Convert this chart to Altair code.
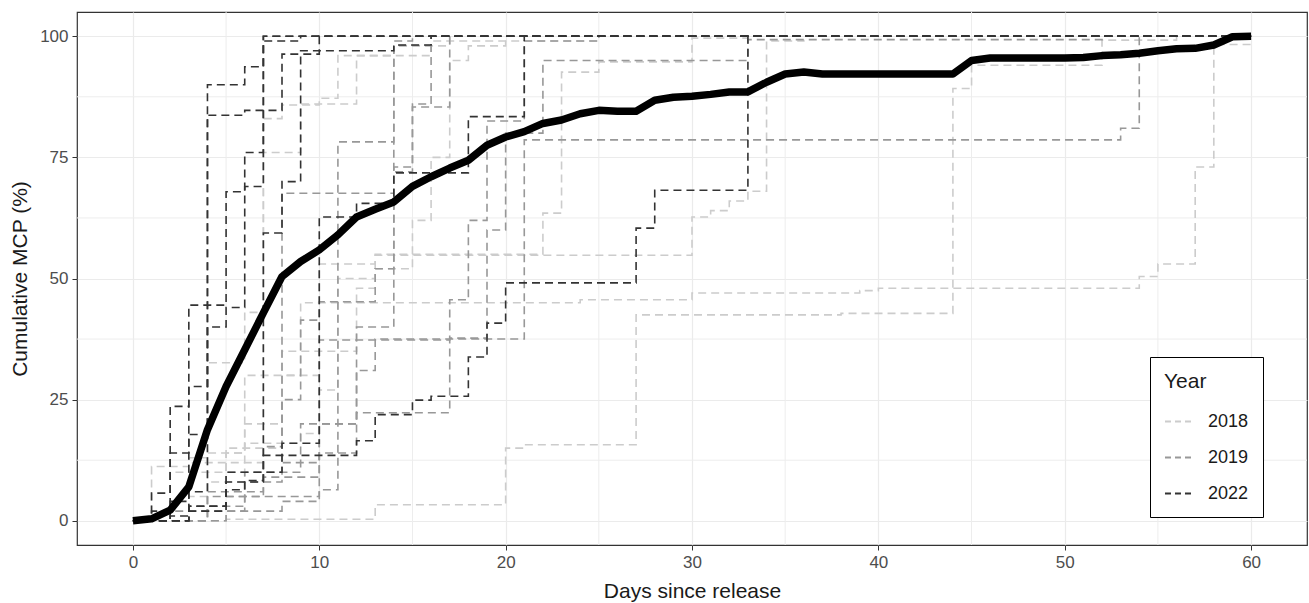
import altair as alt
import pandas as pd

# ---- data ----
years = ["2018", "2019", "2022"]
year_colors = ["#CCCCCC", "#989898", "#333333"]

# individual tracks: (day, cumulative MCP %) step points
ind_2022 = {
    "D1": [(0, 0), (1, 5.7), (2, 14), (3, 17.8), (4, 90), (6, 93.7), (7, 100)],
    "D2": [(0, 0), (1, 2), (2, 23.6), (3, 44.5), (5, 67.9), (6, 69), (7, 100)],
    "D3": [(0, 0), (3, 6), (4, 83.7), (6, 84.7), (8, 96.3), (10, 100)],
    "D4": [(0, 0), (2, 1), (3, 3), (5, 8), (7, 59.4), (8, 70), (9, 97), (14, 98.2), (16, 100)],
    "D5": [(0, 0), (3, 3), (5, 10), (8, 16), (10, 62.7), (12, 65.5), (14, 71.8), (18, 83.4), (21, 100)],
    "D6": [(0, 0), (3, 2), (5, 6.4), (6, 8.3), (7, 13.5), (12, 16.5), (13, 21.9), (15, 24.9),
           (16, 25.7), (18, 33.8), (19, 40.8), (20, 49.1), (27, 60.4), (28, 68.2), (33, 100)],
    "D7": [(0, 0), (2, 4), (3, 27.7), (4, 40), (5, 44), (6, 76), (7, 99), (9, 100)],
}
ind_2019 = {
    "G1": [(0, 0), (4, 3), (6, 8), (8, 12), (10, 20), (12, 31), (13, 37.5), (21, 78.6), (53, 81), (54, 100)],
    "G2": [(0, 0), (5, 2), (8, 4), (10, 6.4), (11, 78.2), (14, 98.1), (16, 100)],
    "G3": [(0, 0), (4, 5), (6, 10), (9, 20), (12, 40), (14, 73), (15, 85.4), (17, 100)],
    "G4": [(0, 0), (3, 2), (5, 5), (7, 10), (8, 67.6), (14, 72), (15, 86), (16, 100)],
    "G5": [(0, 0), (3, 3), (5, 10), (7, 15.3), (8, 25), (9, 41.4), (10, 45.2), (13, 52), (14, 99), (15, 100)],
    "G6": [(0, 0), (3, 2), (6, 5), (10, 37.3), (17, 45.6), (18, 62), (19, 82.5), (21, 99), (25, 100)],
    "G7": [(0, 0), (2, 2), (4, 6), (7, 9), (10, 14), (12, 22.3), (17, 37.7), (19, 60), (20, 80),
           (22, 95), (33, 99.3), (52, 100)],
}
ind_2018 = {
    "L1": [(0, 0), (5, 0.3), (13, 3.3), (20, 15), (21, 15.7), (27, 42.5), (38, 42.8), (44, 89.2),
           (45, 94), (52, 99.2), (56, 100)],
    "L2": [(0, 0), (3, 10), (5, 15), (8, 30), (10, 45), (24, 45.6), (30, 47), (39, 47.5), (40, 48),
           (54, 50.4), (55, 53), (57, 73), (58, 98.3)],
    "L3": [(0, 0), (5, 12), (7, 30), (9, 45), (10, 53), (13, 55), (22, 63.5), (23, 92.6), (25, 94.7),
           (30, 99.6), (33, 100)],
    "L4": [(0, 0), (4, 8), (6, 20), (8, 35), (11, 50), (13, 54.8), (30, 62.7), (31, 64), (32, 66),
           (33, 68), (34, 99), (36, 100)],
    "L5": [(0, 0), (2, 10), (3, 12), (5, 14), (6, 30), (7, 83), (8, 85.8), (10, 87.2), (11, 96),
           (14, 98), (17, 100)],
    "L6": [(0, 0), (1, 11.2), (3, 13), (4, 14), (6, 16), (9, 18), (10, 27), (11, 35), (12, 48),
           (13, 52), (15, 62), (16, 75), (17, 95), (18, 98), (20, 100)],
    "L7": [(0, 0), (3, 5), (4, 32.6), (6, 43), (7, 76), (9, 86), (12, 96), (16, 99), (25, 100)],
}

# mean cumulative curve, days 0..60
mean_days = list(range(0, 61))
mean_vals = [0, 0.4, 2.2, 7, 18.8, 27.7, 35.3, 42.9, 50.4, 53.5,
             55.9, 59, 62.7, 64.3, 65.8, 69, 71, 72.8, 74.4, 77.5,
             79.2, 80.3, 82, 82.7, 84, 84.7, 84.5, 84.5, 86.8, 87.4,
             87.6, 88, 88.5, 88.5, 90.5, 92.2, 92.6, 92.2, 92.2, 92.2,
             92.2, 92.2, 92.2, 92.2, 92.2, 95, 95.5, 95.5, 95.5, 95.5,
             95.5, 95.6, 96, 96.2, 96.5, 97, 97.4, 97.5, 98.2, 99.9, 100]

x_ticks = [0, 10, 20, 30, 40, 50, 60]
y_ticks = [0, 25, 50, 75, 100]
x_minor = [5, 15, 25, 35, 45, 55]
y_minor = [12.5, 37.5, 62.5, 87.5]

# ---- build tables ----
rows = []
for yr, group in (("2018", ind_2018), ("2019", ind_2019), ("2022", ind_2022)):
    for key, pts in group.items():
        pts = list(pts)
        if pts[-1][0] < 60:
            pts.append((60, pts[-1][1]))
        for d, v in pts:
            rows.append({"id": key, "Year": yr, "day": d, "mcp": v})
ind_df = pd.DataFrame(rows)
mean_df = pd.DataFrame({"day": mean_days, "mcp": mean_vals})

W, H = 1230, 533
xscale = alt.Scale(domain=[-3, 63], nice=False, zero=False)
yscale = alt.Scale(domain=[-5, 105], nice=False, zero=False)

grid_x = alt.Chart(pd.DataFrame({"v": x_minor})).mark_rule(color="#EDEDED", strokeWidth=1).encode(
    x=alt.X("v:Q", scale=xscale))
grid_y = alt.Chart(pd.DataFrame({"v": y_minor})).mark_rule(color="#EDEDED", strokeWidth=1).encode(
    y=alt.Y("v:Q", scale=yscale))

color_enc = alt.Color("Year:N", scale=alt.Scale(domain=years, range=year_colors),
                      legend=alt.Legend(title="Year", orient="none", legendX=1073, legendY=345,
                                        symbolType="stroke", symbolDash=[6, 4], symbolStrokeWidth=1.8,
                                        symbolSize=730, labelFontSize=18, titleFontSize=21,
                                        titleFontWeight="normal", titleColor="#1A1A1A",
                                        labelColor="#1A1A1A", strokeColor="#000000",
                                        fillColor="#FFFFFF", padding=14, rowPadding=12,
                                        titlePadding=15, labelOffset=15, offset=0))

layers = [grid_x, grid_y]
for yr in years:
    layers.append(
        alt.Chart(ind_df).transform_filter(alt.datum.Year == yr).mark_line(
            interpolate="step-after", strokeDash=[8, 5], strokeWidth=1.6).encode(
            x=alt.X("day:Q", scale=xscale,
                    axis=alt.Axis(values=x_ticks, title="Days since release", grid=True)),
            y=alt.Y("mcp:Q", scale=yscale,
                    axis=alt.Axis(values=y_ticks, title="Cumulative MCP (%)", grid=True)),
            color=color_enc,
            detail="id:N",
        )
    )

mean_line = alt.Chart(mean_df).mark_line(color="#000000", strokeWidth=7.5, strokeJoin="round",
                                         strokeCap="butt").encode(
    x=alt.X("day:Q", scale=xscale), y=alt.Y("mcp:Q", scale=yscale))
layers.append(mean_line)

chart = alt.layer(*layers).properties(
    width=W, height=H,
    autosize=alt.AutoSizeParams(type="none"),
    padding={"left": 77, "top": 12, "right": 2, "bottom": 58},
).configure_view(
    stroke="#333333", strokeWidth=1.2
).configure_axis(
    domain=False, gridColor="#EBEBEB", gridWidth=1.2, tickColor="#333333", tickSize=5,
    labelColor="#4D4D4D", labelFontSize=17, labelFont="Liberation Sans",
    titleFont="Liberation Sans", titleFontSize=21, titleFontWeight="normal", titleColor="#1A1A1A",
    labelPadding=4,
).configure_axisX(titlePadding=10).configure_axisY(titlePadding=9).configure_legend(
    labelFont="Liberation Sans", titleFont="Liberation Sans"
)

chart.save("out.html", embed_options={"renderer": "svg", "actions": False})
